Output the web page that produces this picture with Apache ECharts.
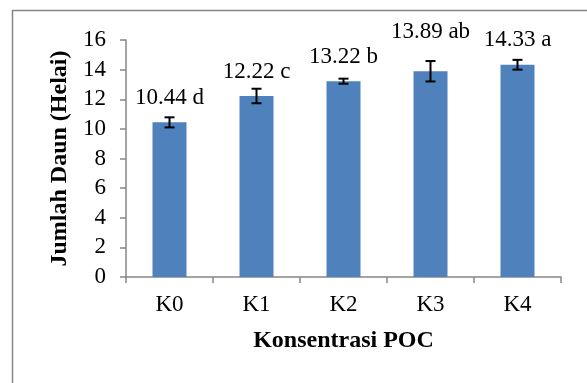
<!DOCTYPE html>
<html>
<head>
<meta charset="utf-8">
<script src="https://cdn.jsdelivr.net/npm/echarts@6/dist/echarts.min.js"></script>
<style>
html,body{margin:0;padding:0;background:#fff;}
#chart{width:587px;height:383px;}
</style>
</head>
<body>
<div id="chart"></div>
<script>
var categories = ['K0', 'K1', 'K2', 'K3', 'K4'];
var means = [10.44, 12.22, 13.22, 13.89, 14.33];
var errors = [0.34, 0.49, 0.17, 0.69, 0.33];
var letters = ['d', 'c', 'b', 'ab', 'a'];
var yTicks = [0, 2, 4, 6, 8, 10, 12, 14, 16];

var FONT = '"Liberation Serif", "Times New Roman", serif';
var chart = echarts.init(document.getElementById('chart'), null, {renderer: 'canvas'});

var barData = means.map(function (v, i) {
  return {
    value: v,
    label: { distance: i === 3 ? 28 : 13 }
  };
});
var errData = means.map(function (v, i) { return [i, v - errors[i], v + errors[i]]; });

chart.setOption({
  animation: false,
  backgroundColor: '#ffffff',
  graphic: [{
    type: 'rect',
    shape: { x: 12.5, y: 10.5, width: 700, height: 500 },
    style: { fill: 'none', stroke: '#868686', lineWidth: 1.5 },
    silent: true,
    z: -10
  }],
  grid: { left: 126, right: 26, top: 40, bottom: 106, containLabel: false },
  xAxis: {
    type: 'category',
    data: categories,
    boundaryGap: true,
    axisLine: { show: true, lineStyle: { color: '#868686', width: 1.5 } },
    axisTick: { show: true, alignWithLabel: false, length: 6, lineStyle: { color: '#868686', width: 1.5 } },
    axisLabel: { color: '#000', fontFamily: FONT, fontSize: 23, margin: 16 },
    name: 'Konsentrasi POC',
    nameLocation: 'middle',
    nameGap: 52,
    nameTextStyle: { color: '#000', fontFamily: FONT, fontSize: 24, fontWeight: 'bold' }
  },
  yAxis: {
    type: 'value',
    min: yTicks[0],
    max: yTicks[yTicks.length - 1],
    interval: 2,
    splitLine: { show: false },
    axisLine: { show: true, lineStyle: { color: '#868686', width: 1.5 } },
    axisTick: { show: true, length: 6, lineStyle: { color: '#868686', width: 1.5 } },
    axisLabel: { color: '#000', fontFamily: FONT, fontSize: 23, margin: 20 },
    name: 'Jumlah Daun (Helai)',
    nameLocation: 'middle',
    nameGap: 52,
    nameRotate: 90,
    nameTextStyle: { color: '#000', fontFamily: FONT, fontSize: 24, fontWeight: 'bold' }
  },
  series: [{
    type: 'bar',
    data: barData,
    barWidth: 34,
    itemStyle: { color: '#4F81BD' },
    label: {
      show: true,
      position: 'top',
      color: '#000',
      fontFamily: FONT,
      fontSize: 23,
      formatter: function (p) { return p.value.toFixed(2) + ' ' + letters[p.dataIndex]; }
    },
    z: 2
  }, {
    type: 'custom',
    data: errData,
    z: 5,
    renderItem: function (params, api) {
      var x = api.value(0);
      var lo = api.coord([x, api.value(1)]);
      var hi = api.coord([x, api.value(2)]);
      var hw = 5;
      var style = { stroke: '#000', lineWidth: 2 };
      return {
        type: 'group',
        children: [
          { type: 'line', shape: { x1: lo[0], y1: lo[1], x2: hi[0], y2: hi[1] }, style: style },
          { type: 'line', shape: { x1: hi[0] - hw, y1: hi[1], x2: hi[0] + hw, y2: hi[1] }, style: style },
          { type: 'line', shape: { x1: lo[0] - hw, y1: lo[1], x2: lo[0] + hw, y2: lo[1] }, style: style }
        ]
      };
    }
  }]
});
</script>
</body>
</html>
